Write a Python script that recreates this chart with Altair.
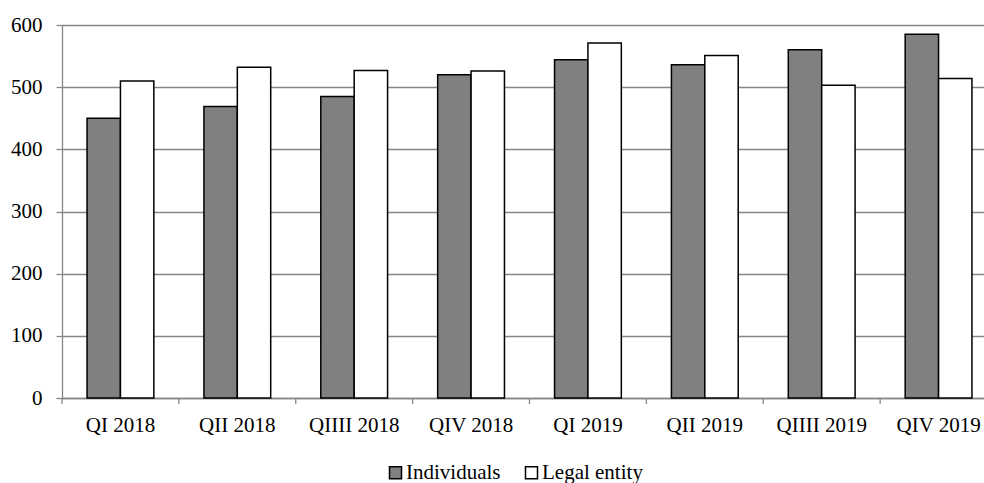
import altair as alt
import pandas as pd

quarters = ["QI 2018", "QII 2018", "QIIII 2018", "QIV 2018",
            "QI 2019", "QII 2019", "QIIII 2019", "QIV 2019"]
series = ["Individuals", "Legal entity"]
individuals = [450, 469, 485, 520, 544, 536, 560, 585]
legal_entity = [510, 532, 527, 526, 571, 551, 503, 514]
y_ticks = [0, 100, 200, 300, 400, 500, 600]

df = pd.DataFrame({
    "quarter": quarters * 2,
    "series": [series[0]] * len(quarters) + [series[1]] * len(quarters),
    "value": individuals + legal_entity,
})
tick_df = pd.DataFrame({"quarter": quarters})

FONT = "Liberation Serif"
FS = 21
W = 922
H = 373
RANGE_MAX = 935
GRID = "#868686"

xscale = alt.Scale(domain=quarters, range=[0, RANGE_MAX], paddingInner=0, paddingOuter=0)

bars = alt.Chart(df).mark_bar(stroke="black", strokeWidth=1.5).encode(
    x=alt.X("quarter:N", scale=xscale, sort=quarters,
            axis=alt.Axis(title=None, labelAngle=0, ticks=False, grid=False,
                          domain=True, domainColor=GRID, domainWidth=1.3,
                          labelFont=FONT, labelFontSize=FS, labelColor="black",
                          labelPadding=16)),
    xOffset=alt.XOffset("series:N", scale=alt.Scale(domain=series, paddingInner=0, paddingOuter=0.75)),
    y=alt.Y("value:Q", scale=alt.Scale(domain=[0, 600], nice=False),
            axis=alt.Axis(title=None, values=y_ticks, grid=True, gridColor=GRID, gridWidth=1.3,
                          domain=True, domainColor=GRID, domainWidth=1.3,
                          ticks=True, tickColor=GRID, tickSize=6, tickWidth=1.3,
                          labelFont=FONT, labelFontSize=FS, labelColor="black",
                          labelPadding=14)),
    color=alt.Color("series:N", scale=alt.Scale(domain=series, range=["#808080", "#ffffff"]),
                    legend=alt.Legend(title=None, orient="none", direction="horizontal",
                                      legendX=323, legendY=437, padding=0,
                                      symbolType="square", symbolSize=144,
                                      symbolStrokeColor="black", symbolStrokeWidth=1.5,
                                      labelFont=FONT, labelFontSize=FS, labelColor="black",
                                      labelOffset=0, columnPadding=20)),
)

ticks = alt.Chart(tick_df).mark_rule(color=GRID, strokeWidth=1.3).encode(
    x=alt.X("quarter:N", scale=xscale, sort=quarters, bandPosition=0),
    y=alt.value(H),
    y2=alt.value(H + 6),
)

chart = alt.layer(bars, ticks).properties(
    width=W, height=H,
    autosize=alt.AutoSizeParams(type="none"),
    padding={"left": 62, "top": 25, "right": 0, "bottom": 85},
).configure_view(stroke=None).configure(background="white")

chart.save("out.html", embed_options={"renderer": "svg", "actions": False})
